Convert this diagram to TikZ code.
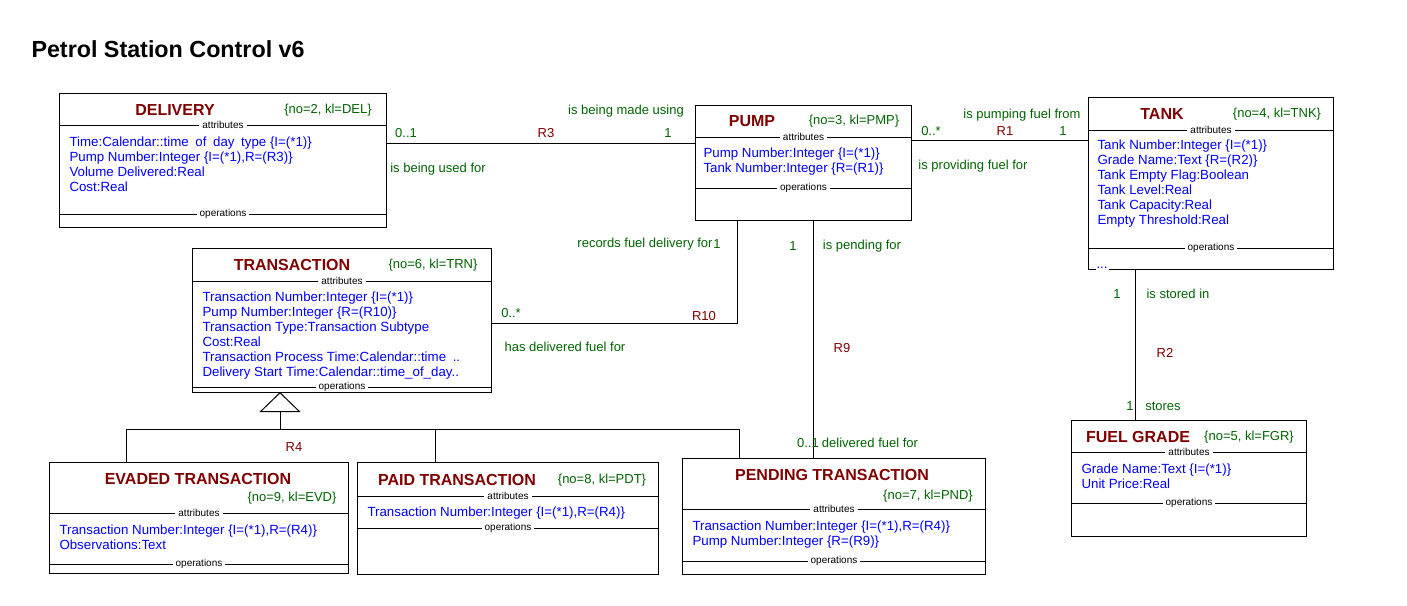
\documentclass[tikz,border=0pt]{standalone}
\usepackage{fontspec}
\setmainfont{Liberation Sans}
\usetikzlibrary{arrows.meta, positioning, calc}
\definecolor{clsred}{RGB}{128,0,0}
\definecolor{phrgreen}{RGB}{0,100,0}
\definecolor{attblue}{RGB}{0,0,255}

\begin{document}
\begin{tikzpicture}[
  x=1pt, y=-1pt, line width=1pt,
  cls/.style = {draw, anchor=north west, inner sep=0pt},
  cname/.style = {text=clsred, inner sep=0pt, font=\fontsize{16}{18}\selectfont\bfseries},
  kl/.style = {text=phrgreen, inner sep=0pt, font=\fontsize{13}{15}\selectfont},
  attr/.style = {text=attblue, inner sep=0pt, anchor=north west, align=left, font=\fontsize{13.3}{15}\selectfont},
  sect/.style = {fill=white, inner xsep=3pt, inner ysep=0pt, font=\fontsize{10}{12}\selectfont},
  phrase/.style = {text=phrgreen, inner sep=0pt, font=\fontsize{13}{15}\selectfont},
  mult/.style = {text=phrgreen, inner sep=0pt, font=\fontsize{13}{15}\selectfont},
  rnum/.style = {text=clsred, inner sep=0pt, font=\fontsize{13}{15}\selectfont},
  gen/.style = {-{Triangle[open, length=20pt, width=41pt]}}
]
  \useasboundingbox (0,0) rectangle (1407,605);

  \node[anchor=west, inner sep=0pt, font=\fontsize{23.3}{27}\selectfont\bfseries] (title) at (31,49) {Petrol Station Control v6};

  % Delivery
  \node[cls, minimum width=327pt, minimum height=134pt] (delivery) at (59,93) {};
  \draw ([yshift=-32pt]delivery.north west) -- node[sect] {attributes} ([yshift=-32pt]delivery.north east);
  \draw ([yshift=14pt]delivery.south west) -- node[sect] {operations} ([yshift=14pt]delivery.south east);
  \node[cname] (delivery-name) at (175,110) {DELIVERY};
  \node[kl] (delivery-kl) at (328,110) {\{no=2, kl=DEL\}};
  \node[attr] (delivery-attr) at (69,136) {Time:Calendar::time\enspace of\enspace day\enspace type \{I=(*1)\}\\
    Pump Number:Integer \{I=(*1),R=(R3)\}\\
    Volume Delivered:Real\\
    Cost:Real};

  % Pump
  \node[cls, minimum width=216pt, minimum height=115pt] (pump) at (695,105) {};
  \draw ([yshift=-32pt]pump.north west) -- node[sect] {attributes} ([yshift=-32pt]pump.north east);
  \draw ([yshift=33pt]pump.south west) -- node[sect] {operations} ([yshift=33pt]pump.south east);
  \node[cname] (pump-name) at (752,121) {PUMP};
  \node[kl] (pump-kl) at (854,121) {\{no=3, kl=PMP\}};
  \node[attr] (pump-attr) at (703,147) {Pump Number:Integer \{I=(*1)\}\\
    Tank Number:Integer \{R=(R1)\}};

  % Tank
  \node[cls, minimum width=245pt, minimum height=172pt] (tank) at (1088,97) {};
  \draw ([yshift=-33pt]tank.north west) -- node[sect] {attributes} ([yshift=-33pt]tank.north east);
  \draw ([yshift=22pt]tank.south west) -- node[sect] {operations} ([yshift=22pt]tank.south east);
  \node[cname] (tank-name) at (1162,114) {TANK};
  \node[kl] (tank-kl) at (1277,114) {\{no=4, kl=TNK\}};
  \node[attr] (tank-attr) at (1097,139) {Tank Number:Integer \{I=(*1)\}\\
    Grade Name:Text \{R=(R2)\}\\
    Tank Empty Flag:Boolean\\
    Tank Level:Real\\
    Tank Capacity:Real\\
    Empty Threshold:Real};
  \node[attr, anchor=base west, fill=white, inner xsep=1pt, inner ysep=1.5pt] (tank-more) at (1095,268) {...};

  % Fuel grade
  \node[cls, minimum width=235pt, minimum height=116pt] (fuelgrade) at (1071,420) {};
  \draw ([yshift=-32pt]fuelgrade.north west) -- node[sect] {attributes} ([yshift=-32pt]fuelgrade.north east);
  \draw ([yshift=34pt]fuelgrade.south west) -- node[sect] {operations} ([yshift=34pt]fuelgrade.south east);
  \node[cname] (fuelgrade-name) at (1138,437) {FUEL GRADE};
  \node[kl] (fuelgrade-kl) at (1249,437) {\{no=5, kl=FGR\}};
  \node[attr] (fuelgrade-attr) at (1081,463) {Grade Name:Text \{I=(*1)\}\\
    Unit Price:Real};

  % Transaction
  \node[cls, minimum width=299pt, minimum height=144pt] (transaction) at (192,248) {};
  \draw ([yshift=-33pt]transaction.north west) -- node[sect] {attributes} ([yshift=-33pt]transaction.north east);
  \draw ([yshift=6pt]transaction.south west) -- node[sect] {operations} ([yshift=6pt]transaction.south east);
  \node[cname] (transaction-name) at (292,265) {TRANSACTION};
  \node[kl] (transaction-kl) at (433,265) {\{no=6, kl=TRN\}};
  \node[attr] (transaction-attr) at (202,291) {Transaction Number:Integer \{I=(*1)\}\\
    Pump Number:Integer \{R=(R10)\}\\
    Transaction Type:Transaction Subtype\\
    Cost:Real\\
    Transaction Process Time:Calendar::time\enspace ..\\
    Delivery Start Time:Calendar::time\_of\_day..};

  % Evaded transaction
  \node[cls, minimum width=299pt, minimum height=111pt] (evaded) at (49,462) {};
  \draw ([yshift=-51pt]evaded.north west) -- node[sect] {attributes} ([yshift=-51pt]evaded.north east);
  \draw ([yshift=10pt]evaded.south west) -- node[sect] {operations} ([yshift=10pt]evaded.south east);
  \node[cname] (evaded-name) at (198,479) {EVADED TRANSACTION};
  \node[kl] (evaded-kl) at (292,498) {\{no=9, kl=EVD\}};
  \node[attr] (evaded-attr) at (59,524) {Transaction Number:Integer \{I=(*1),R=(R4)\}\\
    Observations:Text};

  % Paid transaction
  \node[cls, minimum width=301pt, minimum height=112pt] (paid) at (357,462) {};
  \draw ([yshift=-34pt]paid.north west) -- node[sect] {attributes} ([yshift=-34pt]paid.north east);
  \draw ([yshift=47pt]paid.south west) -- node[sect] {operations} ([yshift=47pt]paid.south east);
  \node[cname] (paid-name) at (457,480) {PAID TRANSACTION};
  \node[kl] (paid-kl) at (602,480) {\{no=8, kl=PDT\}};
  \node[attr] (paid-attr) at (367,506) {Transaction Number:Integer \{I=(*1),R=(R4)\}};

  % Pending transaction
  \node[cls, minimum width=303pt, minimum height=116pt] (pending) at (682,458) {};
  \draw ([yshift=-51pt]pending.north west) -- node[sect] {attributes} ([yshift=-51pt]pending.north east);
  \draw ([yshift=14pt]pending.south west) -- node[sect] {operations} ([yshift=14pt]pending.south east);
  \node[cname] (pending-name) at (832,475) {PENDING TRANSACTION};
  \node[kl] (pending-kl) at (928,496) {\{no=7, kl=PND\}};
  \node[attr] (pending-attr) at (692,520) {Transaction Number:Integer \{I=(*1),R=(R4)\}\\
    Pump Number:Integer \{R=(R9)\}};

  % R3 delivery - pump
  \draw ([yshift=-50pt]delivery.north east) -- ([yshift=-38pt]pump.north west);
  \node[mult] (r3-from) at (406,133) {0..1};
  \node[rnum] (r3) at (546,133) {R3};
  \node[mult] (r3-to) at (668,133) {1};
  \node[phrase] (r3-fwd) at (626,111) {is being made using};
  \node[phrase] (r3-back) at (438,169) {is being used for};

  % R1 pump - tank
  \draw ([yshift=-35pt]pump.north east) -- ([yshift=-43pt]tank.north west);
  \node[mult] (r1-from) at (931,131) {0..*};
  \node[rnum] (r1) at (1005,131) {R1};
  \node[mult] (r1-to) at (1063,131) {1};
  \node[phrase] (r1-fwd) at (1022,115) {is pumping fuel from};
  \node[phrase] (r1-back) at (973,166) {is providing fuel for};

  % R10 transaction - pump
  \draw ([yshift=-75pt]transaction.north east) -| ([xshift=42pt]pump.south west);
  \node[mult] (r10-from) at (511,313) {0..*};
  \node[rnum] (r10) at (704,316) {R10};
  \node[phrase] (r10-fwd) at (645,244) {records fuel delivery for};
  \node[mult] (r10-to) at (717,244) {1};
  \node[phrase] (r10-back) at (565,347) {has delivered fuel for};

  % R9 pending - pump
  \draw ([xshift=118pt]pump.south west) -- ([xshift=131pt]pending.north west);
  \node[mult] (r9-to) at (793,246) {1};
  \node[phrase] (r9-fwd) at (862,246) {is pending for};
  \node[rnum] (r9) at (842,348) {R9};
  \node[mult] (r9-from) at (808,443) {0..1};
  \node[phrase] (r9-back) at (870,443) {delivered fuel for};

  % R2 tank - fuel grade
  \draw ([xshift=47pt]tank.south west) -- ([xshift=64pt]fuelgrade.north west);
  \node[mult] (r2-to) at (1117,294) {1};
  \node[phrase] (r2-fwd) at (1178,294) {is stored in};
  \node[rnum] (r2) at (1165,353) {R2};
  \node[mult] (r2-from) at (1130,406) {1};
  \node[phrase] (r2-back) at (1163,406) {stores};

  % R4 subtypes of transaction
  \coordinate (r4top) at (280,392);
  \coordinate (r4bar) at (280,429);
  \draw[gen] (r4bar) -- (r4top);
  \draw ([xshift=77pt]evaded.north west) |- ([xshift=57pt]pending.north west |- r4bar) -- ([xshift=57pt]pending.north west);
  \draw ([xshift=78pt]paid.north west) -- ([xshift=78pt]paid.north west |- r4bar);
  \node[rnum] (r4) at (294,447) {R4};

\end{tikzpicture}
\end{document}
